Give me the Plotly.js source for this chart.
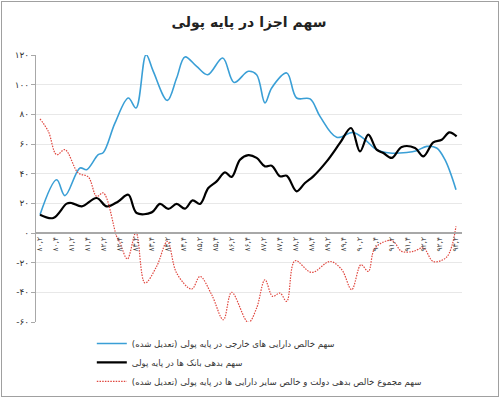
<!DOCTYPE html>
<html>
<head>
<meta charset="utf-8">
<script src="https://cdn.plot.ly/plotly-3.0.1.min.js"></script>
<style>
html,body{margin:0;padding:0;background:#fff;}
#wrap{position:relative;width:500px;height:398px;}
#chart{width:500px;height:398px;}
#frame{position:absolute;left:1px;top:1px;width:496px;height:394px;border:1px solid #a0a0a0;pointer-events:none;}
</style>
</head>
<body>
<div id="wrap"><div id="chart"></div><div id="frame"></div></div>
<script>
// Tick labels (half-year periods)
const tickPos = [];
const tickLabels = ["۸۰,۲","۸۰,۴","۸۱,۲","۸۱,۴","۸۲,۲","۸۲,۴","۸۳,۲","۸۳,۴","۸۴,۲","۸۴,۴","۸۵,۲","۸۵,۴","۸۶,۲","۸۶,۴","۸۷,۲","۸۷,۴","۸۸,۲","۸۸,۴","۸۹,۲","۸۹,۴","۹۰,۲","۹۰,۴","۹۱,۲","۹۱,۴","۹۲,۲","۹۲,۴","۹۳,۲"];
for (let i = 0; i < tickLabels.length; i++) tickPos.push(i);

const yTickVals = [-60,-40,-20,0,20,40,60,80,100,120];
const yTickText = ["-۶۰","-۴۰","-۲۰","۰","۲۰","۴۰","۶۰","۸۰","۱۰۰","۱۲۰"];

// Series: foreign assets share (adjusted)
const foreignX = [0,1.04,1.56,2.5,2.92,3.64,3.96,4.69,5.52,6.0,6.63,7.08,7.96,8.54,9.06,9.79,10.48,11.42,12.13,13.02,13.54,14.06,14.48,15.42,16.04,16.88,17.5,18.54,19.58,20.31,21.04,21.88,22.92,23.54,24.17,24.79,25.31,26];
const foreignY = [12.3,35.9,25.2,43.8,42.7,52.8,54.3,74.2,91.0,84.3,120.2,109,89.4,104.5,118.7,112.3,106.7,118,101.5,109,106.7,87.7,97.8,107.9,91,90.4,78.6,64.5,67.8,62.9,56.2,53.9,54.3,55.5,58.4,57.3,49.4,29.2];

// Series: banks' debt share
const banksX = [0,0.83,1.67,1.98,2.61,3.54,4.17,4.89,5.52,6.04,6.98,7.5,8.02,8.54,9.06,9.54,10,10.52,11.04,11.56,11.98,12.5,13.02,13.54,14.06,14.48,15,15.42,16.04,16.56,17.08,17.92,18.75,19.44,20,20.52,21.04,21.46,21.98,22.61,23.44,23.96,24.58,25.11,25.58,26.04];
const banksY = [12.3,10.1,19.8,20.2,17.9,23.6,17.9,21.3,25.8,13.5,13.9,19.6,16.2,19.6,16.4,22,19.6,30.3,34.8,40.9,37.8,49.4,52.5,50.6,44.9,45.4,38.2,38.6,28.1,33.7,38.2,48.3,60.7,70.8,55,66.3,56.2,53.9,50.6,58,57.3,51.7,61.1,62.9,67.8,65.1];

// Series: government debt + other assets share (adjusted)
const govX = [0,0.52,1.04,1.56,2.39,3.02,3.54,3.96,4.79,5,5.46,6,6.56,7.29,7.96,8.54,9.48,10,10.73,11.46,11.98,13.02,13.54,14.06,14.54,15,15.42,15.94,16.98,18.13,18.86,19.48,20.06,20.52,20.94,21.98,22.61,23.33,23.96,24.58,25.42,26];
const govY = [76.9,68.5,52.8,56.2,40.5,37.8,24.7,27,-2.3,-6.7,-17.5,0.4,-33.7,-22.5,-5.7,-27,-37.8,-29.3,-41.6,-58.5,-40,-60.3,-50.6,-31.5,-42.7,-40.5,-46.1,-18.7,-26.6,-19.2,-24.7,-38.2,-21.4,-25.9,-10.1,-5,-12.4,-12.4,-10.1,-19.2,-16.2,4.5];

const names = [
  "سهم خالص دارایی های خارجی در پایه پولی (تعدیل شده)",
  "سهم بدهی بانک ها در پایه پولی",
  "سهم مجموع خالص بدهی دولت و خالص سایر دارایی ها در پایه پولی (تعدیل شده)"
];

const yMin = -60, yMax = 120;

const traces = [
  {x: foreignX, y: foreignY, name: names[0], type: "scatter", mode: "lines",
   line: {color: "#3a9fd6", width: 1.6, shape: "spline", smoothing: 1}},
  {x: banksX, y: banksY, name: names[1], type: "scatter", mode: "lines",
   line: {color: "#000000", width: 2.2, shape: "spline", smoothing: 1}},
  {x: govX, y: govY, name: names[2], type: "scatter", mode: "lines",
   line: {color: "#e0473f", width: 1.2, dash: "1.5px,1.2px", shape: "spline", smoothing: 1}}
];

const layout = {
  width: 500, height: 398,
  margin: {l: 36, r: 38, t: 55, b: 76, autoexpand: false},
  paper_bgcolor: "#ffffff", plot_bgcolor: "#ffffff",
  font: {family: "DejaVu Sans, sans-serif", color: "#333"},
  title: {text: "<b>سهم اجزا در پایه پولی</b>", x: 0.5, xref: "paper", y: 0.945, yref: "container", yanchor: "middle",
          font: {size: 14, color: "#222", family: "DejaVu Sans, sans-serif"}},
  showlegend: true,
  legend: {x: 0.131, y: -0.026, xanchor: "left", yanchor: "top", orientation: "v",
           font: {size: 8.6, color: "#333"}, bgcolor: "rgba(0,0,0,0)"},
  xaxis: {range: [-0.25, 26.375], anchor: "free", position: (0 - yMin) / (yMax - yMin),
          tickmode: "array", tickvals: tickPos, ticktext: tickLabels, tickangle: -90,
          tickfont: {size: 7.5, color: "#444"}, showgrid: false, zeroline: false,
          showline: true, linecolor: "#a8a8a8", linewidth: 2, ticks: "", fixedrange: true},
  yaxis: {range: [yMin, yMax], tickmode: "array", tickvals: yTickVals, ticktext: yTickText,
          tickfont: {size: 9, color: "#333"}, showgrid: true, gridcolor: "#e8e8e8", gridwidth: 1,
          zeroline: false, showline: true, linecolor: "#a8a8a8", linewidth: 1,
          ticks: "outside", ticklen: 4, tickcolor: "#a8a8a8", fixedrange: true}
};

Plotly.newPlot("chart", traces, layout, {displayModeBar: false, staticPlot: true});
</script>
</body>
</html>
